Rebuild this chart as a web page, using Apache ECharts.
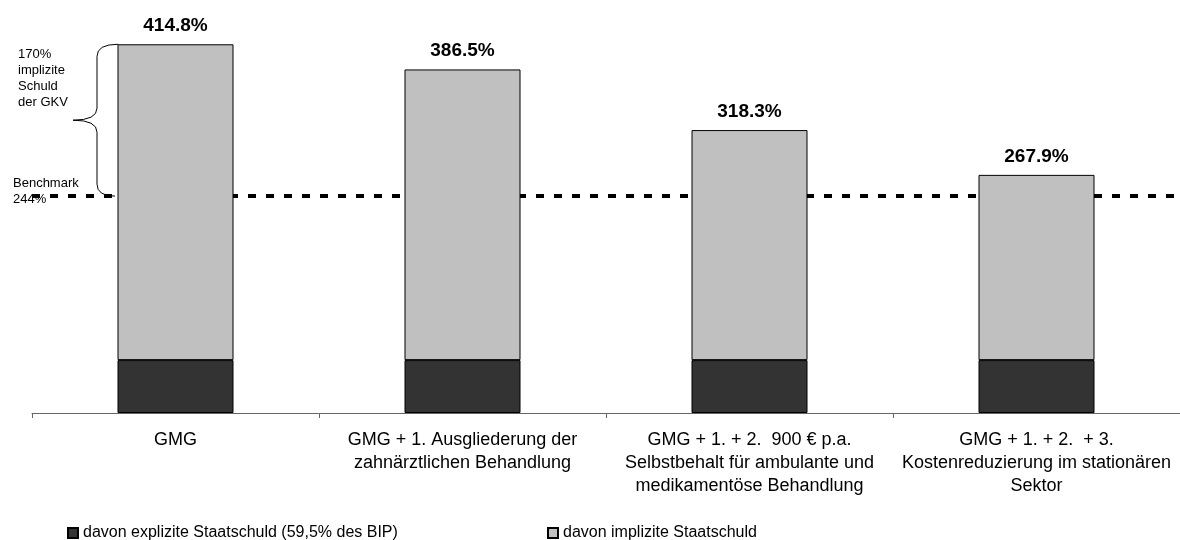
<!DOCTYPE html>
<html>
<head>
<meta charset="utf-8">
<script src="https://cdn.jsdelivr.net/npm/echarts@6/dist/echarts.min.js"></script>
<style>
  html, body { margin: 0; padding: 0; background: #fff; }
  #chartDiv { width: 1180px; height: 540px; }
</style>
</head>
<body>
<div id="chartDiv"></div>
<script>
// Daten
var categories = [
    'GMG',
    'GMG + 1. Ausgliederung der\nzahnärztlichen Behandlung',
    'GMG + 1. + 2.  900 € p.a.\nSelbstbehalt für ambulante und\nmedikamentöse Behandlung',
    'GMG + 1. + 2.  + 3.\nKostenreduzierung im stationären\nSektor'
];
var explicitDebt = [59.5, 59.5, 59.5, 59.5];
var implicitDebt = [355.3, 327.0, 258.8, 208.4];
var totals = [414.8, 386.5, 318.3, 267.9];
var benchmark = 244;
var seriesNames = ['davon explizite Staatschuld (59,5% des BIP)', 'davon implizite Staatschuld'];

var font = 'Liberation Sans, Arial, sans-serif';
var chart = echarts.init(document.getElementById('chartDiv'));

var option = {
    animation: false,
    textStyle: { fontFamily: font },
    grid: { left: 32, right: 0, top: 13, bottom: 127 },
    legend: [
        {
            data: [seriesNames[0]], left: 62, top: 520, icon: 'rect',
            itemWidth: 10, itemHeight: 10,
            textStyle: { fontSize: 16, color: '#000', fontFamily: font }
        },
        {
            data: [seriesNames[1]], left: 542, top: 520, icon: 'rect',
            itemWidth: 10, itemHeight: 10,
            textStyle: { fontSize: 16, color: '#000', fontFamily: font }
        }
    ],
    xAxis: {
        type: 'category',
        data: categories,
        axisLine: { lineStyle: { color: '#666', width: 1 } },
        axisTick: { show: true, length: 5, lineStyle: { color: '#666' } },
        axisLabel: {
            interval: 0, margin: 16, color: '#000',
            fontSize: 18, lineHeight: 23, fontFamily: font
        }
    },
    yAxis: {
        type: 'value', min: 0, max: 450, show: false,
        splitLine: { show: false }
    },
    series: [
        {
            name: seriesNames[0],
            type: 'bar', stack: 'schuld', barWidth: 116,
            data: explicitDebt,
            itemStyle: { color: '#333333', borderColor: '#000', borderWidth: 1 }
        },
        {
            name: seriesNames[1],
            type: 'bar', stack: 'schuld', barWidth: 116,
            data: implicitDebt,
            itemStyle: { color: '#C0C0C0', borderColor: '#000', borderWidth: 1 },
            label: {
                show: true, position: 'top', distance: 9,
                fontSize: 19, fontWeight: 'bold', color: '#000', fontFamily: font,
                formatter: function (p) { return totals[p.dataIndex].toFixed(1) + '%'; }
            },
            markLine: {
                z: 1, silent: true, symbol: ['none', 'none'],
                label: { show: false },
                lineStyle: { color: '#000', width: 4, type: [8, 10] },
                data: [{ yAxis: benchmark }]
            }
        }
    ]
};
chart.setOption(option);

// Klammer links (170% implizite Schuld der GKV)
var yTop = chart.convertToPixel({ yAxisIndex: 0 }, totals[0]);
var yBot = chart.convertToPixel({ yAxisIndex: 0 }, benchmark);
var yMid = (yTop + yBot) / 2;
var bx = 97;
var braceStyle = { fill: null, stroke: '#000', lineWidth: 1 };

chart.setOption({
    graphic: [
        { type: 'bezierCurve', shape: { x1: 118, y1: yTop, cpx1: bx, cpy1: yTop, x2: bx, y2: yTop + 12 }, style: braceStyle },
        { type: 'line', shape: { x1: bx, y1: yTop + 12, x2: bx, y2: yMid - 12 }, style: braceStyle },
        { type: 'bezierCurve', shape: { x1: bx, y1: yMid - 12, cpx1: bx, cpy1: yMid, x2: 73, y2: yMid }, style: braceStyle },
        { type: 'bezierCurve', shape: { x1: 73, y1: yMid, cpx1: bx, cpy1: yMid, x2: bx, y2: yMid + 12 }, style: braceStyle },
        { type: 'line', shape: { x1: bx, y1: yMid + 12, x2: bx, y2: yBot - 12 }, style: braceStyle },
        { type: 'bezierCurve', shape: { x1: bx, y1: yBot - 12, cpx1: bx, cpy1: yBot, x2: 115, y2: yBot }, style: braceStyle },
        {
            type: 'text', left: 18, top: yTop + 2,
            style: {
                text: '170%\nimplizite\nSchuld\nder GKV',
                font: '13px ' + font, lineHeight: 16, fill: '#000'
            }
        },
        {
            type: 'text', left: 13, top: yBot - 21,
            style: {
                text: 'Benchmark\n244%',
                font: '13px ' + font, lineHeight: 16, fill: '#000'
            }
        }
    ]
});
</script>
</body>
</html>
